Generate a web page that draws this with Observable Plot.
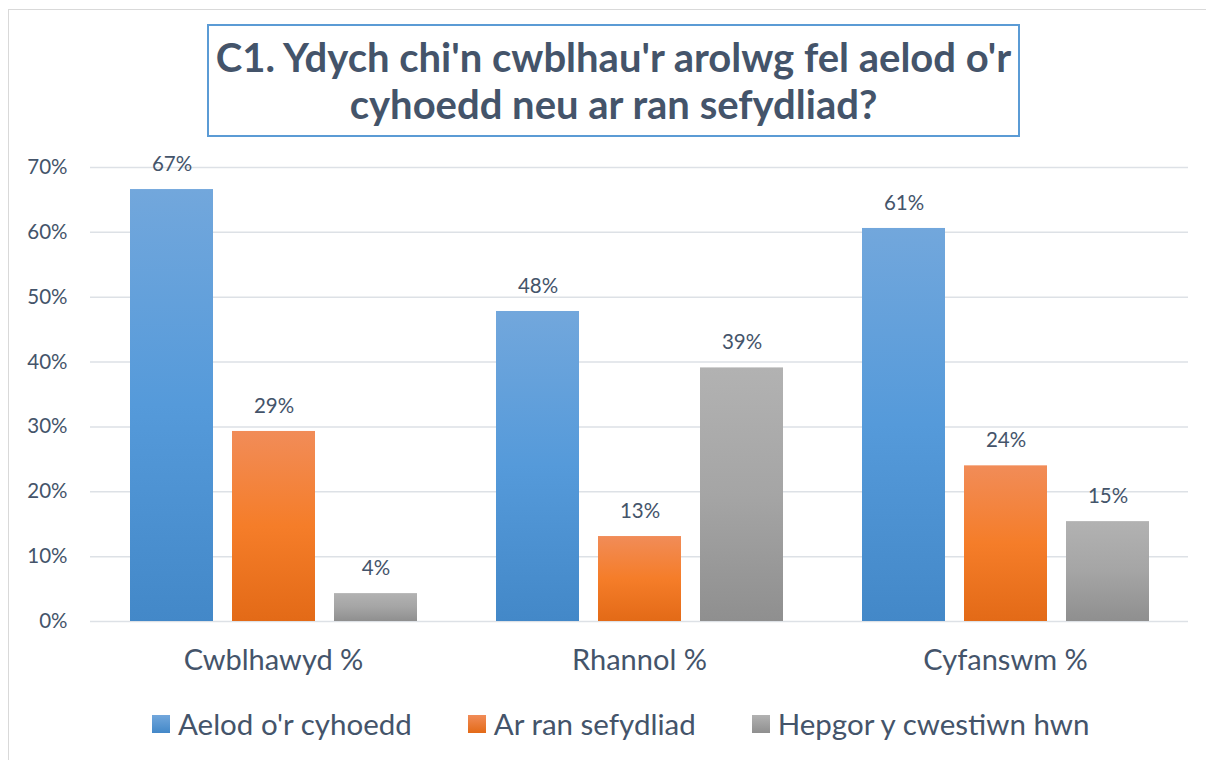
<!DOCTYPE html>
<html>
<head>
<meta charset="utf-8">
<script src="https://cdn.jsdelivr.net/npm/d3@7"></script>
<script src="https://cdn.jsdelivr.net/npm/@observablehq/plot@0.6"></script>
<style>
  html, body { margin: 0; padding: 0; background: #fff; }
  body { width: 1206px; height: 760px; position: relative; overflow: hidden; font-family: Lato, "Open Sans", sans-serif; color: #44546a; }
  #frame { position: absolute; left: 8px; top: 9px; right: -10px; bottom: -10px; border-left: 1.5px solid #d9d9d9; border-top: 1.5px solid #d9d9d9; }
  #title { position: absolute; left: 207px; top: 24px; width: 809px; height: 109px; border: 2px solid #5b9bd5; display: flex; align-items: center; justify-content: center; text-align: center; font-weight: 700; font-size: 40px; line-height: 47px; color: #44546a; }
  #chart { position: absolute; left: 0; top: 140px; }
  #legend { position: absolute; left: 152px; top: 706px; display: flex; align-items: center; font-size: 29.5px; color: #44546a; }
  .item { display: flex; align-items: center; margin-right: 56px; }
  .sw { width: 18px; height: 18px; margin-right: 8px; }
</style>
</head>
<body>
<div id="frame"></div>
<div id="title"><div>C1. Ydych chi'n cwblhau'r arolwg fel aelod o'r<br>cyhoedd neu ar ran sefydliad?</div></div>
<div id="chart"></div>
<div id="legend"></div>
<script>
const categories = ["Cwblhawyd %", "Rhannol %", "Cyfanswm %"];
const series = ["Aelod o'r cyhoedd", "Ar ran sefydliad", "Hepgor y cwestiwn hwn"];
const valuesAelod = [0.666, 0.478, 0.606];
const valuesSefydliad = [0.293, 0.131, 0.240];
const valuesHepgor = [0.043, 0.391, 0.154];
const yTicks = [0, 0.1, 0.2, 0.3, 0.4, 0.5, 0.6, 0.7];
const seriesColors = [
  ["#72a7dc", "#559ada", "#4388c8"],
  ["#f18c58", "#f57d29", "#e36a17"],
  ["#b2b2b2", "#a5a5a5", "#8f8f8f"]
];

const seriesValues = [valuesAelod, valuesSefydliad, valuesHepgor];
const data = [];
categories.forEach((c, i) => {
  series.forEach((s, j) => {
    data.push({cat: c, series: s, value: seriesValues[j][i], grad: `url(#grad${j})`});
  });
});

const font = "Lato, 'Open Sans', sans-serif";
const svg = Plot.plot({
  width: 1206,
  height: 532,
  marginLeft: 89,
  marginRight: 17,
  marginTop: 27,
  marginBottom: 51,
  style: {fontFamily: font, color: "#44546a", background: "transparent", overflow: "visible"},
  fx: {domain: categories, padding: 0, label: null},
  x: {domain: series, paddingInner: 0.19, paddingOuter: 0.38, axis: null},
  y: {domain: [0, 0.7], label: null},
  color: {type: "identity"},
  marks: [
    Plot.ruleY(yTicks, {stroke: "#dde1e6", strokeWidth: 1.5}),
    Plot.barY(data, {fx: "cat", x: "series", y: "value", fill: "grad"}),
    Plot.text(data, {fx: "cat", x: "series", y: "value", text: d => Math.round(d.value * 100) + "%", dy: -25, fontSize: 20.5, fill: "#44546a"}),
    Plot.axisY({ticks: yTicks, tickFormat: d => Math.round(d * 100) + "%", tickSize: 0, tickPadding: 23, fontSize: 20.5, label: null}),
    Plot.axisFx({anchor: "bottom", tickSize: 0, tickPadding: 28, fontSize: 29, label: null})
  ]
});

const defs = d3.select(svg).insert("defs", ":first-child");
seriesColors.forEach((cols, j) => {
  const g = defs.append("linearGradient").attr("id", `grad${j}`).attr("x1", 0).attr("y1", 0).attr("x2", 0).attr("y2", 1);
  g.append("stop").attr("offset", "0%").attr("stop-color", cols[0]);
  g.append("stop").attr("offset", "50%").attr("stop-color", cols[1]);
  g.append("stop").attr("offset", "100%").attr("stop-color", cols[2]);
});
document.getElementById("chart").appendChild(svg);

const legend = d3.select("#legend");
series.forEach((s, j) => {
  const it = legend.append("div").attr("class", "item");
  it.append("div").attr("class", "sw").style("background", `linear-gradient(${seriesColors[j][0]}, ${seriesColors[j][2]})`);
  it.append("span").text(s);
});
</script>
</body>
</html>
